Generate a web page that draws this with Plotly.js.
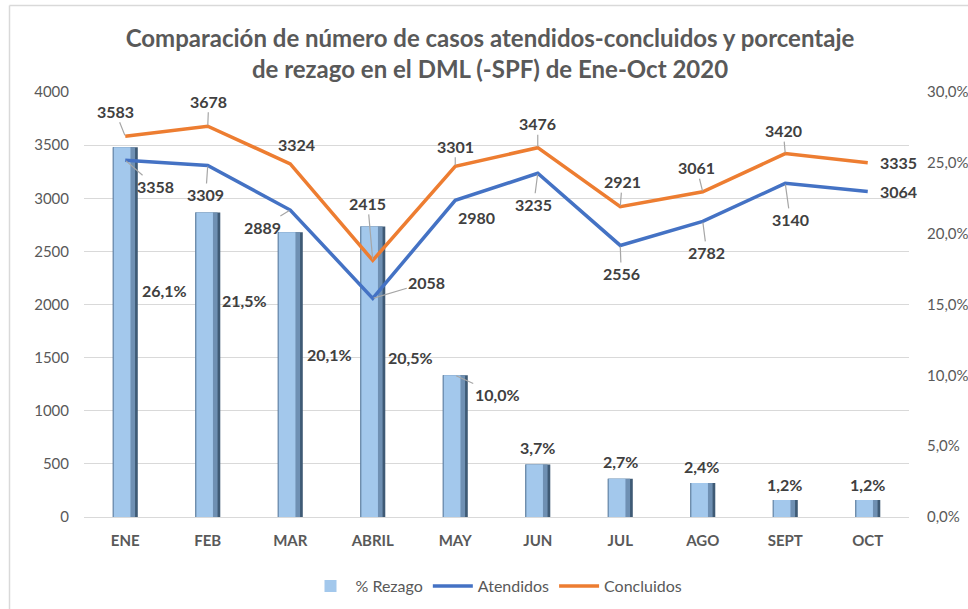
<!DOCTYPE html>
<html>
<head>
<meta charset="utf-8">
<script src="https://cdn.plot.ly/plotly-3.0.1.min.js"></script>
<style>html,body{margin:0;padding:0;background:#fff;}#chart{width:968px;height:609px;}</style>
</head>
<body>
<div id="chart"></div>
<script>
// ---- data ----
const meses = ['ENE','FEB','MAR','ABRIL','MAY','JUN','JUL','AGO','SEPT','OCT'];
const rezago = [26.1,21.5,20.1,20.5,10.0,3.7,2.7,2.4,1.2,1.2];
const atendidos = [3358,3309,2889,2058,2980,3235,2556,2782,3140,3064];
const concluidos = [3583,3678,3324,2415,3301,3476,2921,3061,3420,3335];
const rightTicks = [0,5,10,15,20,25,30];
const leftTicks = [0,500,1000,1500,2000,2500,3000,3500,4000];

// ---- label placement (pixel offsets: dx, dy, leader line) ----
const offConcluidos = [[-10,-25,1],[1,-25,1],[6,-19,0],[-5,-57,1],[0,-20,1],[0,-24,1],[2,-25,1],[-6,-24,1],[-2,-23,1],[31,0,0]];
const offAtendidos = [[30,26,1],[-2,29,1],[-28,17,1],[54,-16,1],[21,17,0],[-4,31,1],[1,28,1],[4,31,1],[5,36,1],[31,0,0]];
const offRezago = [[39,143,0],[37,88,0],[39,122,0],[38,131,0],[42,19,1],[0,-17,0],[0,-17,0],[-1,-17,0],[-1,-16,0],[0,-16,0]];

const FONT = 'Lato, "Open Sans", sans-serif';
const labelFont = {family: FONT, size: 16, color: '#404040', weight: 'bold'};

function pct(v){ return v.toFixed(1).replace('.', ',') + '%'; }

const annotations = [];
function addLabels(vals, offs, yref, fmt){
  vals.forEach((v,i)=>{
    const o = offs[i];
    const a = {x: meses[i], y: v, xref: 'x', yref: yref, text: fmt(v), font: labelFont};
    if (o[2]) {
      Object.assign(a, {showarrow: true, ax: o[0], ay: o[1], arrowhead: 0, arrowwidth: 1.2,
        arrowcolor: '#a6a6a6', standoff: 1});
    } else {
      Object.assign(a, {showarrow: false, xshift: o[0], yshift: -o[1]});
    }
    annotations.push(a);
  });
}
addLabels(concluidos, offConcluidos, 'y2', v => String(v));
addLabels(atendidos, offAtendidos, 'y2', v => String(v));
addLabels(rezago, offRezago, 'y', pct);

// chart frame (pixel -> paper)
const L = 84, R = 59, T = 92, B = 92, W = 968, H = 609;
const pw = W - L - R, ph = H - T - B;
const px = x => (x - L) / pw;
const py = y => (H - B - y) / ph;
const shapes = [
  {type:'line', xref:'paper', yref:'paper', x0: px(9.5), x1: px(9.5), y0: py(5.5), y1: py(640), line:{color:'#d9d9d9', width:1.5}},
  {type:'line', xref:'paper', yref:'paper', x0: px(9.5), x1: px(1000), y0: py(5.5), y1: py(5.5), line:{color:'#d9d9d9', width:1.5}}
];

const traces = [
  {type:'bar', x: meses, y: rezago, yaxis:'y', width: 0.303, offset: -0.151,
   marker:{color:'#3f5a75'}, showlegend:false, hoverinfo:'skip'},
  {type:'bar', x: meses, y: rezago, yaxis:'y', width: 0.27, offset: -0.151,
   marker:{color:'#6f90b3'}, showlegend:false, hoverinfo:'skip'},
  {type:'bar', x: meses, y: rezago, yaxis:'y', width: 0.20, offset: -0.137, name:'% Rezago',
   marker:{color:'#a3c8ec', line:{color:'#5f7fa0', width:0}}, hoverinfo:'skip'},
  {type:'scatter', mode:'lines', x: meses, y: atendidos, yaxis:'y2', name:'Atendidos',
   line:{color:'#4472C4', width:3.5}},
  {type:'scatter', mode:'lines', x: meses, y: concluidos, yaxis:'y2', name:'Concluidos',
   line:{color:'#ED7D31', width:3.5}}
];

const tickFont = {family: FONT, size: 15, color: '#595959'};
const layout = {
  width: W, height: H,
  margin: {l: L, r: R, t: T, b: B, autoexpand: false},
  paper_bgcolor: '#ffffff', plot_bgcolor: 'rgba(0,0,0,0)',
  barmode: 'overlay',
  hovermode: false,
  title: {text: 'Comparación de número de casos atendidos-concluidos y porcentaje<br>de rezago en el DML (-SPF) de Ene-Oct 2020',
    font: {family: FONT, size: 24, color: '#595959', weight: 'bold'},
    x: 490/968, xanchor: 'center', y: 1 - 47/609, yanchor: 'middle', yref: 'container'},
  xaxis: {type:'category', categoryorder:'array', categoryarray: meses, range: [-0.5, 9.5],
    showgrid:false, showline:true, linecolor:'#d9d9d9', linewidth:1, ticks:'',
    tickfont: {family: FONT, size: 15, color:'#595959', weight:'bold'}, ticklabelstandoff: 10},
  yaxis: {side:'right', range:[0,30], tickvals: rightTicks, ticktext: rightTicks.map(pct),
    showgrid:false, zeroline:false, ticks:'', tickfont: tickFont, ticklabelstandoff: 17},
  yaxis2: {side:'left', overlaying:'y', range:[0,4000], tickvals: leftTicks, ticktext: leftTicks.map(String),
    showgrid:true, gridcolor:'#d9d9d9', gridwidth:1, zeroline:false, ticks:'', tickfont: tickFont,
    ticklabelstandoff: 14},
  legend: {orientation:'h', x: 0.5, xanchor:'center', y: py(586), yanchor:'middle',
    font: {family: FONT, size: 16, color:'#595959'}, itemwidth: 40},
  annotations: annotations,
  shapes: shapes
};

Plotly.newPlot('chart', traces, layout, {displayModeBar:false, staticPlot:true});
</script>
</body>
</html>
